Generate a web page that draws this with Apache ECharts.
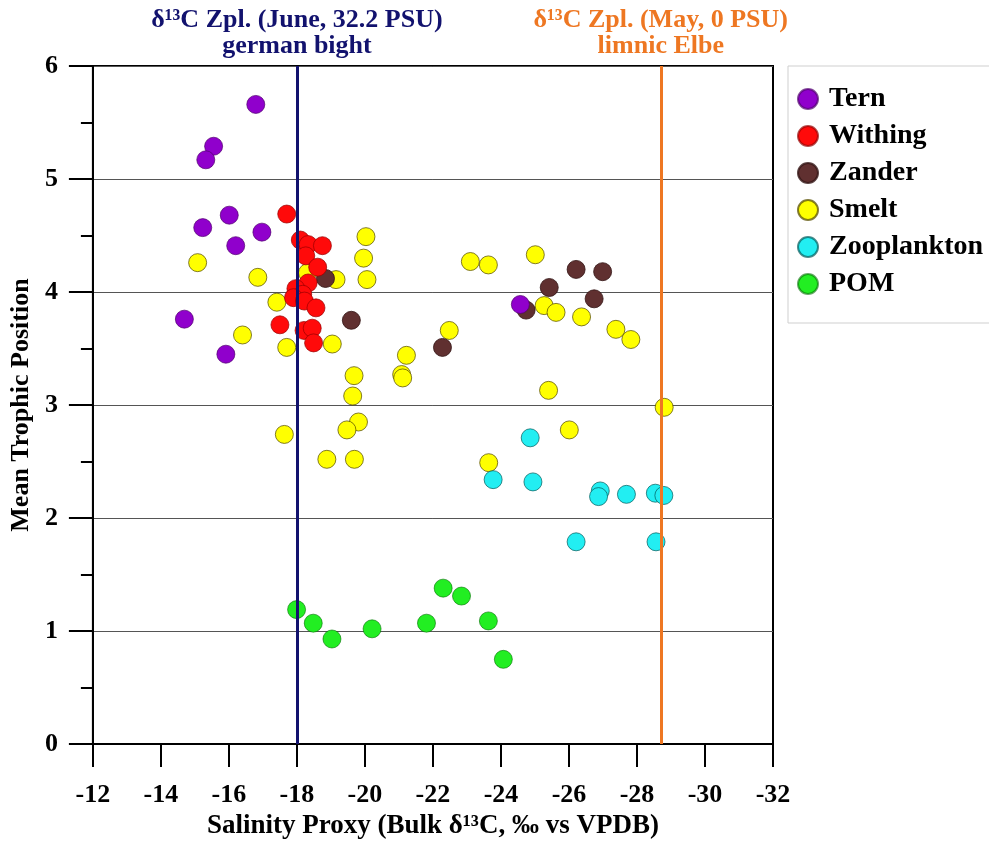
<!DOCTYPE html>
<html>
<head>
<meta charset="utf-8">
<script src="https://cdn.jsdelivr.net/npm/echarts@6/dist/echarts.min.js"></script>
<style>html,body{margin:0;padding:0;background:#fff}#c{width:989px;height:845px}</style>
</head>
<body>
<div id="c"></div>
<script>
const xTicks = [-12,-14,-16,-18,-20,-22,-24,-26,-28,-30,-32];
const yTicks = [0,1,2,3,4,5,6];

const ternX = [-16.79,-15.55,-15.32,-16.01,-15.23,-16.97,-16.20,-14.69,-15.91,-24.57];
const ternY = [5.66,5.29,5.17,4.68,4.57,4.53,4.41,3.76,3.45,3.89];

const withingX = [-17.70,-18.10,-18.33,-18.75,-18.26,-18.61,-18.33,-17.97,-18.17,-17.90,-18.22,-18.56,-17.50,-18.21,-18.45,-18.49];
const withingY = [4.69,4.46,4.42,4.41,4.32,4.22,4.08,4.03,3.98,3.95,3.92,3.86,3.71,3.66,3.68,3.55];

const zanderX = [-18.84,-19.60,-25.42,-26.21,-26.99,-26.74,-24.74,-22.28];
const zanderY = [4.12,3.75,4.04,4.20,4.18,3.94,3.84,3.51];

const smeltX = [-20.03,-19.96,-20.06,-15.08,-16.85,-19.15,-18.31,-17.41,-16.40,-17.70,-19.04,-19.68,-19.64,-21.22,-21.08,-21.11,-22.48,-19.81,-19.47,-17.63,-18.88,-19.69,-23.10,-23.63,-25.01,-25.27,-25.62,-26.37,-27.38,-27.82,-25.40,-28.80,-26.01,-23.64];
const smeltY = [4.49,4.30,4.11,4.26,4.13,4.11,4.17,3.91,3.62,3.51,3.54,3.26,3.08,3.44,3.27,3.24,3.66,2.85,2.78,2.74,2.52,2.52,4.27,4.24,4.33,3.88,3.82,3.78,3.67,3.58,3.13,2.98,2.78,2.49];

const zooX = [-24.86,-23.77,-24.94,-26.92,-26.87,-27.69,-28.54,-28.79,-26.21,-28.56];
const zooY = [2.71,2.34,2.32,2.24,2.19,2.21,2.22,2.20,1.79,1.79];

const pomX = [-17.99,-18.48,-19.03,-20.21,-21.81,-22.30,-22.84,-23.63,-24.07];
const pomY = [1.19,1.07,0.93,1.02,1.07,1.38,1.31,1.09,0.75];

const marineRefX = -18.0;
const limnicRefX = -28.7;
const marineLabel = ['δ¹³C Zpl. (June, 32.2 PSU)', 'german bight'];
const limnicLabel = ['δ¹³C Zpl. (May, 0 PSU)', 'limnic Elbe'];

const legendOrder = ['Tern','Withing','Zander','Smelt','Zooplankton','POM'];

const FONT = '"Liberation Serif", "Times New Roman", serif';
const zip = (xs, ys) => xs.map((x, i) => [x, ys[i]]);

function scatter(name, xs, ys, color, border) {
  return {
    name, type: 'scatter', data: zip(xs, ys), symbolSize: 18,
    itemStyle: { color, borderColor: border, borderWidth: 1, opacity: 1 },
    emphasis: { disabled: true }
  };
}

const chart = echarts.init(document.getElementById('c'), null, { renderer: 'canvas' });
const smelt = scatter('Smelt', smeltX, smeltY, '#FFFF00', 'rgba(90,80,0,0.75)');
smelt.markLine = {
  silent: true, symbol: 'none', animation: false,
  data: [
    { xAxis: marineRefX, lineStyle: { color: '#12126e', width: 3, type: 'solid' },
      label: { show: true, position: 'end', distance: 7, formatter: marineLabel.join('\n'),
        color: '#12126e', fontFamily: FONT, fontWeight: 'bold', fontSize: 26, lineHeight: 26, align: 'center' } },
    { xAxis: limnicRefX, lineStyle: { color: '#EE7722', width: 3, type: 'solid' },
      label: { show: true, position: 'end', distance: 7, formatter: limnicLabel.join('\n'),
        color: '#EE7722', fontFamily: FONT, fontWeight: 'bold', fontSize: 26, lineHeight: 26, align: 'center' } }
  ]
};

const option = {
  animation: false,
  backgroundColor: '#fff',
  grid: { left: 92, right: 216, top: 66, bottom: 98, show: true, borderColor: '#000', borderWidth: 2, backgroundColor: 'transparent' },
  legend: {
    data: legendOrder, orient: 'vertical', left: 788, top: 66,
    borderColor: '#cfcfcf', borderWidth: 1, backgroundColor: '#fff',
    padding: [18, 40, 24, 9], itemGap: 7, itemWidth: 20, itemHeight: 20, icon: 'circle',
    textStyle: { fontFamily: FONT, fontWeight: 'bold', fontSize: 28, lineHeight: 30, color: '#000', padding: [0, 0, 0, 6] }
  },
  xAxis: {
    type: 'value', inverse: true, min: -32, max: -12, interval: 2,
    name: 'Salinity Proxy (Bulk δ¹³C, ‰ vs VPDB)', nameLocation: 'middle', nameGap: 68,
    nameTextStyle: { fontFamily: FONT, fontWeight: 'bold', fontSize: 27, color: '#000' },
    axisLine: { show: true, onZero: false, lineStyle: { color: '#000', width: 2 } },
    axisTick: { show: true, inside: false, length: 23, lineStyle: { color: '#000', width: 2 } },
    axisLabel: { show: true, margin: 38, fontFamily: FONT, fontWeight: 'bold', fontSize: 26, color: '#000',
      customValues: xTicks },
    splitLine: { show: false }
  },
  yAxis: {
    type: 'value', min: 0, max: 6, interval: 1,
    name: 'Mean Trophic Position', nameLocation: 'middle', nameGap: 57, nameRotate: 90,
    nameTextStyle: { fontFamily: FONT, fontWeight: 'bold', fontSize: 26, color: '#000' },
    axisLine: { show: true, onZero: false, lineStyle: { color: '#000', width: 2 } },
    axisTick: { show: true, inside: false, length: 24, lineStyle: { color: '#000', width: 2 } },
    minorTick: { show: true, splitNumber: 2, length: 12, lineStyle: { color: '#000', width: 2 } },
    axisLabel: { show: true, margin: 35, fontFamily: FONT, fontWeight: 'bold', fontSize: 26, color: '#000',
      customValues: yTicks },
    splitLine: { show: true, lineStyle: { color: '#555', width: 1 } }
  },
  series: [
    smelt,
    scatter('Zooplankton', zooX, zooY, '#22EEF2', 'rgba(0,90,90,0.7)'),
    scatter('POM', pomX, pomY, '#22EE22', 'rgba(0,110,0,0.6)'),
    scatter('Zander', zanderX, zanderY, '#603030', 'rgba(50,20,20,0.8)'),
    scatter('Withing', withingX, withingY, '#FF0A0A', 'rgba(150,0,0,0.7)'),
    scatter('Tern', ternX, ternY, '#9000CC', 'rgba(80,0,110,0.7)')
  ]
};
chart.setOption(option);
</script>
</body>
</html>
